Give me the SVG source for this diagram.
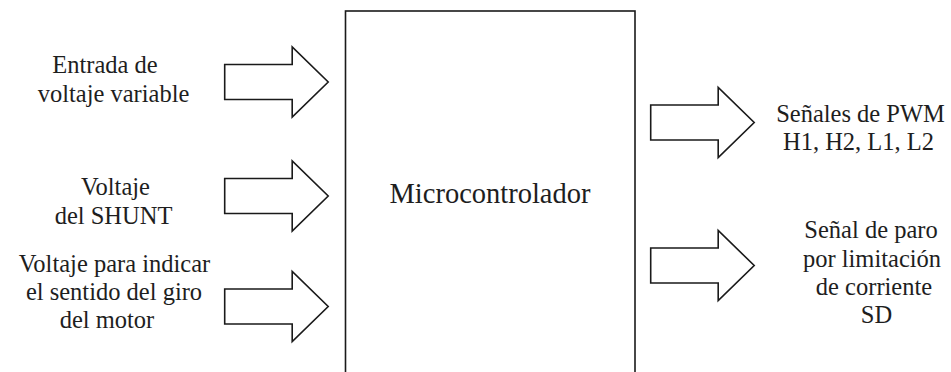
<svg xmlns="http://www.w3.org/2000/svg" xmlns:xlink="http://www.w3.org/1999/xlink" width="951" height="372" viewBox="0 0 951 372">
  <style>
    text { font-family: 'Liberation Serif', 'Times New Roman', Times, 'DejaVu Serif', serif; fill: #1e1e1e; text-anchor: middle; }
    .lbl { font-size: 24.5px; }
    .main { font-size: 28.5px; }
    .blk { fill: #ffffff; stroke: #1a1a1a; stroke-width: 1.6; stroke-linejoin: miter; }
  </style>
  <defs>
    <!-- hollow block arrow, origin at the left end of the shaft centre line -->
    <path id="blockArrow" class="blk" d="M0,-17.5 H67.5 V-35 L103.5,0 L67.5,35 V17.5 H0 Z"/>
  </defs>

  <rect width="951" height="372" fill="#ffffff"/>

  <!-- central block, open at the bottom edge of the page -->
  <g id="micro">
    <rect class="blk" x="345.5" y="11" width="289.5" height="380"/>
    <text class="main" x="490" y="203">Microcontrolador</text>
  </g>

  <!-- input labels -->
  <g id="in-voltaje-variable">
    <text class="lbl" x="105" y="72.5">Entrada de</text>
    <text class="lbl" x="113.5" y="101.5">voltaje variable</text>
  </g>
  <g id="in-shunt">
    <text class="lbl" x="115.5" y="195">Voltaje</text>
    <text class="lbl" x="113.5" y="223.5">del SHUNT</text>
  </g>
  <g id="in-sentido">
    <text class="lbl" x="114.5" y="272">Voltaje para indicar</text>
    <text class="lbl" x="114" y="300">el sentido del giro</text>
    <text class="lbl" x="107" y="328">del motor</text>
  </g>

  <!-- output labels -->
  <g id="out-pwm">
    <text class="lbl" x="860.5" y="122">Señales de PWM</text>
    <text class="lbl" x="858.5" y="149.5">H1, H2, L1, L2</text>
  </g>
  <g id="out-sd">
    <text class="lbl" x="871" y="238">Señal de paro</text>
    <text class="lbl" x="872" y="266.5">por limitación</text>
    <text class="lbl" x="874" y="295">de corriente</text>
    <text class="lbl" x="876.5" y="323">SD</text>
  </g>

  <!-- block arrows -->
  <g id="connectors">
    <use xlink:href="#blockArrow" href="#blockArrow" x="224.7" y="82"/>
    <use xlink:href="#blockArrow" href="#blockArrow" x="224.7" y="196"/>
    <use xlink:href="#blockArrow" href="#blockArrow" x="224.7" y="306.5"/>
    <use xlink:href="#blockArrow" href="#blockArrow" x="650.7" y="122.5"/>
    <use xlink:href="#blockArrow" href="#blockArrow" x="650.7" y="265.5"/>
  </g>
</svg>
